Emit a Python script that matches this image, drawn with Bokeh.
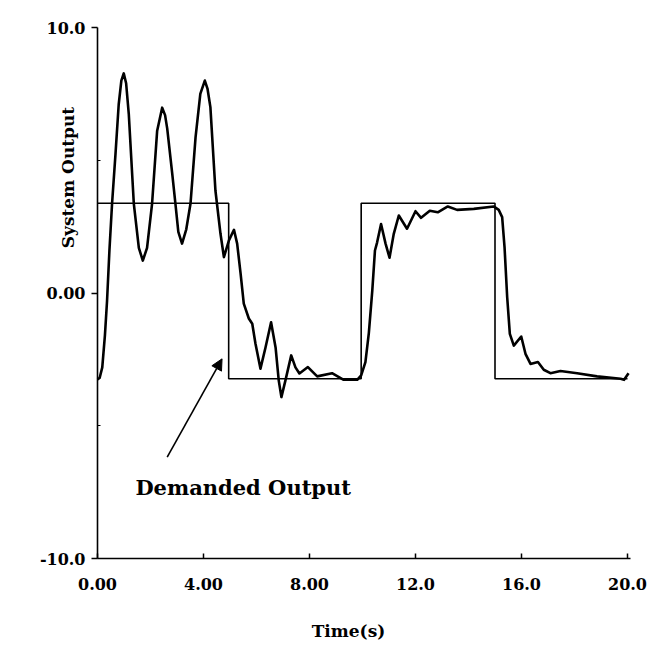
import math
from bokeh.plotting import figure
from bokeh.models import Range1d, FixedTicker, Label, Arrow, NormalHead
from bokeh.embed import file_html
from bokeh.resources import INLINE

# ---- data ----
out_t = [0.0, 0.08, 0.18, 0.28, 0.36, 0.45, 0.55, 0.68, 0.80, 0.90, 0.99, 1.08, 1.18, 1.37, 1.56,
         1.71, 1.87, 2.06, 2.25, 2.44, 2.55, 2.63, 2.82, 2.94, 3.05, 3.19, 3.35, 3.51, 3.70, 3.88,
         4.05, 4.15, 4.26, 4.45, 4.64, 4.77, 4.96, 5.15, 5.27, 5.40, 5.52, 5.71, 5.84, 5.96, 6.15,
         6.34, 6.55, 6.72, 6.84, 6.94, 7.09, 7.31, 7.47, 7.62, 7.94, 8.29, 8.85, 9.29, 9.80, 9.95,
         10.11, 10.24, 10.37, 10.47, 10.55, 10.70, 10.87, 11.02, 11.18, 11.37, 11.68, 12.0, 12.21,
         12.54, 12.84, 13.22, 13.57, 14.2, 14.95, 15.14, 15.27, 15.36, 15.46, 15.56, 15.71, 15.99,
         16.15, 16.34, 16.62, 16.84, 17.09, 17.47, 18.1, 18.85, 19.74, 19.87, 20.04]
out_v = [-3.25, -3.2, -2.8, -1.6, -0.3, 1.6, 3.37, 5.25, 7.1, 8.0, 8.27, 7.9, 6.75, 3.37, 1.7,
         1.22, 1.7, 3.37, 6.1, 6.98, 6.7, 6.2, 4.5, 3.37, 2.3, 1.86, 2.4, 3.37, 5.86, 7.5,
         8.0, 7.7, 7.0, 3.86, 2.24, 1.35, 1.98, 2.38, 1.86, 0.73, -0.4, -0.96, -1.16, -1.9, -2.85,
         -2.05, -1.1, -2.05, -3.3, -3.92, -3.3, -2.35, -2.8, -3.03, -2.79, -3.14, -3.02, -3.27, -3.27, -3.1,
         -2.6, -1.5, 0.1, 1.6, 1.9, 2.6, 1.86, 1.33, 2.23, 2.92, 2.42, 3.08, 2.83,
         3.1, 3.04, 3.26, 3.13, 3.17, 3.26, 3.13, 2.86, 1.73, -0.16, -1.54, -1.98, -1.64,
         -2.29, -2.67, -2.6, -2.89, -3.02, -2.94, -3.02, -3.14, -3.23, -3.27, -3.02]

dem_t = [0.0, 4.95, 4.95, 9.95, 9.95, 15.0, 15.0, 20.0]
dem_v = [3.38, 3.38, -3.23, -3.23, 3.38, 3.38, -3.23, -3.23]

x_ticks = [0, 4, 8, 12, 16, 20]
x_tick_labels = ["0.00", "4.00", "8.00", "12.0", "16.0", "20.0"]
y_ticks = [-10, 0, 10]
y_tick_labels = ["-10.0", "0.00", "10.0"]

FONT = "DejaVu Serif"
W = H = 647
PX_X = 26.5    # pixels per second
PX_Y = 26.55   # pixels per output unit
x0 = -97 / PX_X
y1 = 292.5 / PX_Y

p = figure(width=W, height=H, output_backend="svg", toolbar_location=None,
           x_range=Range1d(x0, x0 + W / PX_X), y_range=Range1d(y1 - H / PX_Y, y1),
           min_border=0)
p.outline_line_color = None
p.grid.visible = False
p.background_fill_color = "white"

p.line(dem_t, dem_v, line_color="black", line_width=1.6)
p.line(out_t, out_v, line_color="black", line_width=2.6, line_join="round")

# axes (fixed at the data origin of the original chart)
p.xaxis.fixed_location = -10
p.xaxis.bounds = (0, 20.12)
p.yaxis.fixed_location = 0
p.yaxis.bounds = (-10, 10)
p.xaxis.ticker = FixedTicker(ticks=x_ticks)
p.xaxis.major_label_overrides = {t: s for t, s in zip(x_ticks, x_tick_labels)}
p.yaxis.ticker = FixedTicker(ticks=y_ticks, minor_ticks=[-5, 5])
p.yaxis.major_label_overrides = {t: s for t, s in zip(y_ticks, y_tick_labels)}
for ax in (p.xaxis, p.yaxis):
    ax.axis_line_color = "black"
    ax.axis_line_width = 1.6
    ax.major_tick_line_color = "black"
    ax.major_tick_line_width = 1.5
    ax.major_label_text_font = FONT
    ax.major_label_text_font_style = "bold"
    ax.major_label_text_font_size = "16px"
    ax.major_label_text_color = "black"
p.xaxis.major_tick_in = 5
p.xaxis.major_tick_out = 0
p.xaxis.minor_tick_line_color = None
p.xaxis.major_label_standoff = 19
p.yaxis.major_tick_in = 0
p.yaxis.major_tick_out = 6
p.yaxis.minor_tick_in = 3
p.yaxis.minor_tick_out = 0
p.yaxis.minor_tick_line_color = "black"
p.yaxis.major_label_standoff = 6

# titles as labels
p.add_layout(Label(x=9.47, y=-12.72, text="Time(s)", text_font=FONT, text_font_style="bold",
                   text_font_size="17px", text_align="center", text_baseline="middle",
                   text_color="black"))
p.add_layout(Label(x=-1.12, y=4.35, text="System Output", angle=math.pi / 2, text_font=FONT,
                   text_font_style="bold", text_font_size="17px", text_align="center",
                   text_baseline="middle", text_color="black"))
p.add_layout(Label(x=1.43, y=-7.33, text="Demanded Output", text_font=FONT, text_font_style="bold",
                   text_font_size="21px", text_align="left", text_baseline="middle",
                   text_color="black"))
p.add_layout(Arrow(end=NormalHead(size=11, fill_color="black", line_color="black"),
                   x_start=2.63, y_start=-6.18, x_end=4.70, y_end=-2.48,
                   line_color="black", line_width=1.6))

open("out.html", "w").write(file_html(p, INLINE))
